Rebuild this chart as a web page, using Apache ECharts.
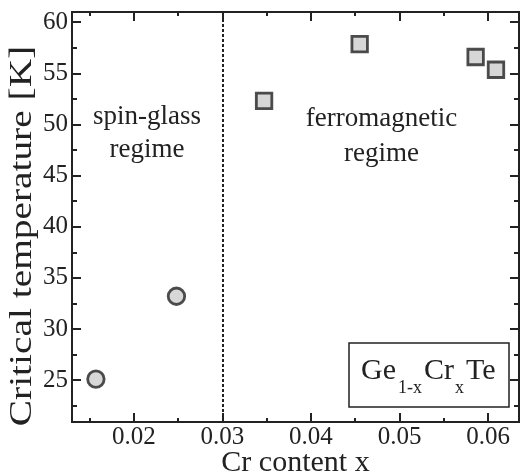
<!DOCTYPE html>
<html>
<head>
<meta charset="utf-8">
<script src="https://cdn.jsdelivr.net/npm/echarts@6/dist/echarts.min.js"></script>
<style>
  html, body { margin: 0; padding: 0; background: #fff; }
  #chart { width: 520px; height: 474px; }
</style>
</head>
<body>
<div id="chart"></div>
<script>
// Tc of Ge(1-x)Cr(x)Te vs Cr content
const spinGlass = [[0.0157, 25.1], [0.0248, 33.2]];
const ferro = [[0.0347, 52.3], [0.0455, 57.85], [0.0586, 56.6], [0.0609, 55.35]];
const boundaryX = 0.03;

const xMajor = [0.02, 0.03, 0.04, 0.05, 0.06];
const xMinor = [0.015, 0.025, 0.035, 0.045, 0.055];
const yMajor = [25, 30, 35, 40, 45, 50, 55, 60];
const yMinor = [22.5, 27.5, 32.5, 37.5, 42.5, 47.5, 52.5, 57.5];

const X_MIN = 0.013, X_MAX = 0.0635;
const Y_MIN = 20.9, Y_MAX = 61;

const FONT = '"Liberation Serif", "Times New Roman", serif';
const INK = '#222';

function axis(kind, position, ticks, len, labels) {
  const a = {
    type: 'value',
    position: position,
    min: kind === 'x' ? X_MIN : Y_MIN,
    max: kind === 'x' ? X_MAX : Y_MAX,
    splitLine: { show: false },
    axisLine: { show: true, onZero: false, lineStyle: { color: INK, width: 2 } },
    axisTick: { show: true, inside: true, length: len, customValues: ticks, lineStyle: { color: INK, width: 2 } },
    axisLabel: { show: false }
  };
  if (labels) {
    a.axisLabel = {
      show: true, customValues: ticks, margin: kind === 'x' ? 3 : 4,
      color: INK, fontSize: 25, fontFamily: FONT
    };
  }
  return a;
}

const xAxes = [
  axis('x', 'bottom', xMajor, 9, true),
  axis('x', 'bottom', xMinor, 4, false),
  axis('x', 'top', xMajor, 9, false),
  axis('x', 'top', xMinor, 4, false)
];
xAxes[0].name = 'Cr content x';
xAxes[0].nameLocation = 'middle';
xAxes[0].nameGap = 26;
xAxes[0].nameMoveOverlap = false;
xAxes[0].nameTextStyle = { color: INK, fontSize: 30, fontFamily: FONT };

const yAxes = [
  axis('y', 'left', yMajor, 9, true),
  axis('y', 'left', yMinor, 5, false),
  axis('y', 'right', yMajor, 9, false),
  axis('y', 'right', yMinor, 5, false)
];

const markerStyle = { color: '#cdcdcd', borderColor: INK, borderWidth: 2.8 };

const chart = echarts.init(document.getElementById('chart'));
chart.setOption({
  animation: false,
  backgroundColor: '#fff',
  grid: { left: 72, right: 1, top: 12, bottom: 52, containLabel: false, outerBoundsMode: 'none' },
  xAxis: xAxes,
  yAxis: yAxes,
  series: [
    {
      type: 'scatter', name: 'spin-glass', data: spinGlass,
      symbol: 'circle', symbolSize: 16.5, itemStyle: markerStyle, z: 5,
      markLine: {
        silent: true, symbol: 'none', label: { show: false },
        lineStyle: { color: INK, width: 2, type: [3, 2] },
        data: [{ xAxis: boundaryX }]
      }
    },
    {
      type: 'scatter', name: 'ferromagnetic', data: ferro,
      symbol: 'rect', symbolSize: 15.5, itemStyle: markerStyle, z: 5
    }
  ],
  graphic: [
    {
      type: 'text', x: 23, y: 236, rotation: Math.PI / 2, scaleX: 1.27,
      style: { text: 'Critical temperature [K]', font: '31px ' + FONT, fill: INK, align: 'center', verticalAlign: 'middle' }
    },
    { type: 'text', x: 147, y: 116.5, style: { text: 'spin-glass', font: '27px ' + FONT, fill: INK, align: 'center', verticalAlign: 'middle' } },
    { type: 'text', x: 147, y: 150, style: { text: 'regime', font: '27px ' + FONT, fill: INK, align: 'center', verticalAlign: 'middle' } },
    { type: 'text', x: 381.5, y: 119, style: { text: 'ferromagnetic', font: '27px ' + FONT, fill: INK, align: 'center', verticalAlign: 'middle' } },
    { type: 'text', x: 381.5, y: 154, style: { text: 'regime', font: '27px ' + FONT, fill: INK, align: 'center', verticalAlign: 'middle' } },
    {
      type: 'group',
      children: [
        { type: 'rect', shape: { x: 349, y: 343, width: 160, height: 64 }, style: { fill: '#fff', stroke: INK, lineWidth: 1.5 } },
        { type: 'text', x: 361, y: 371, style: { text: 'Ge', font: '30px ' + FONT, fill: INK, align: 'left', verticalAlign: 'middle' } },
        { type: 'text', x: 398, y: 388, style: { text: '1-x', font: '18px ' + FONT, fill: INK, align: 'left', verticalAlign: 'middle' } },
        { type: 'text', x: 424, y: 371, style: { text: 'Cr', font: '30px ' + FONT, fill: INK, align: 'left', verticalAlign: 'middle' } },
        { type: 'text', x: 455, y: 388, style: { text: 'x', font: '18px ' + FONT, fill: INK, align: 'left', verticalAlign: 'middle' } },
        { type: 'text', x: 466, y: 371, style: { text: 'Te', font: '30px ' + FONT, fill: INK, align: 'left', verticalAlign: 'middle' } }
      ]
    }
  ]
});
</script>
</body>
</html>
